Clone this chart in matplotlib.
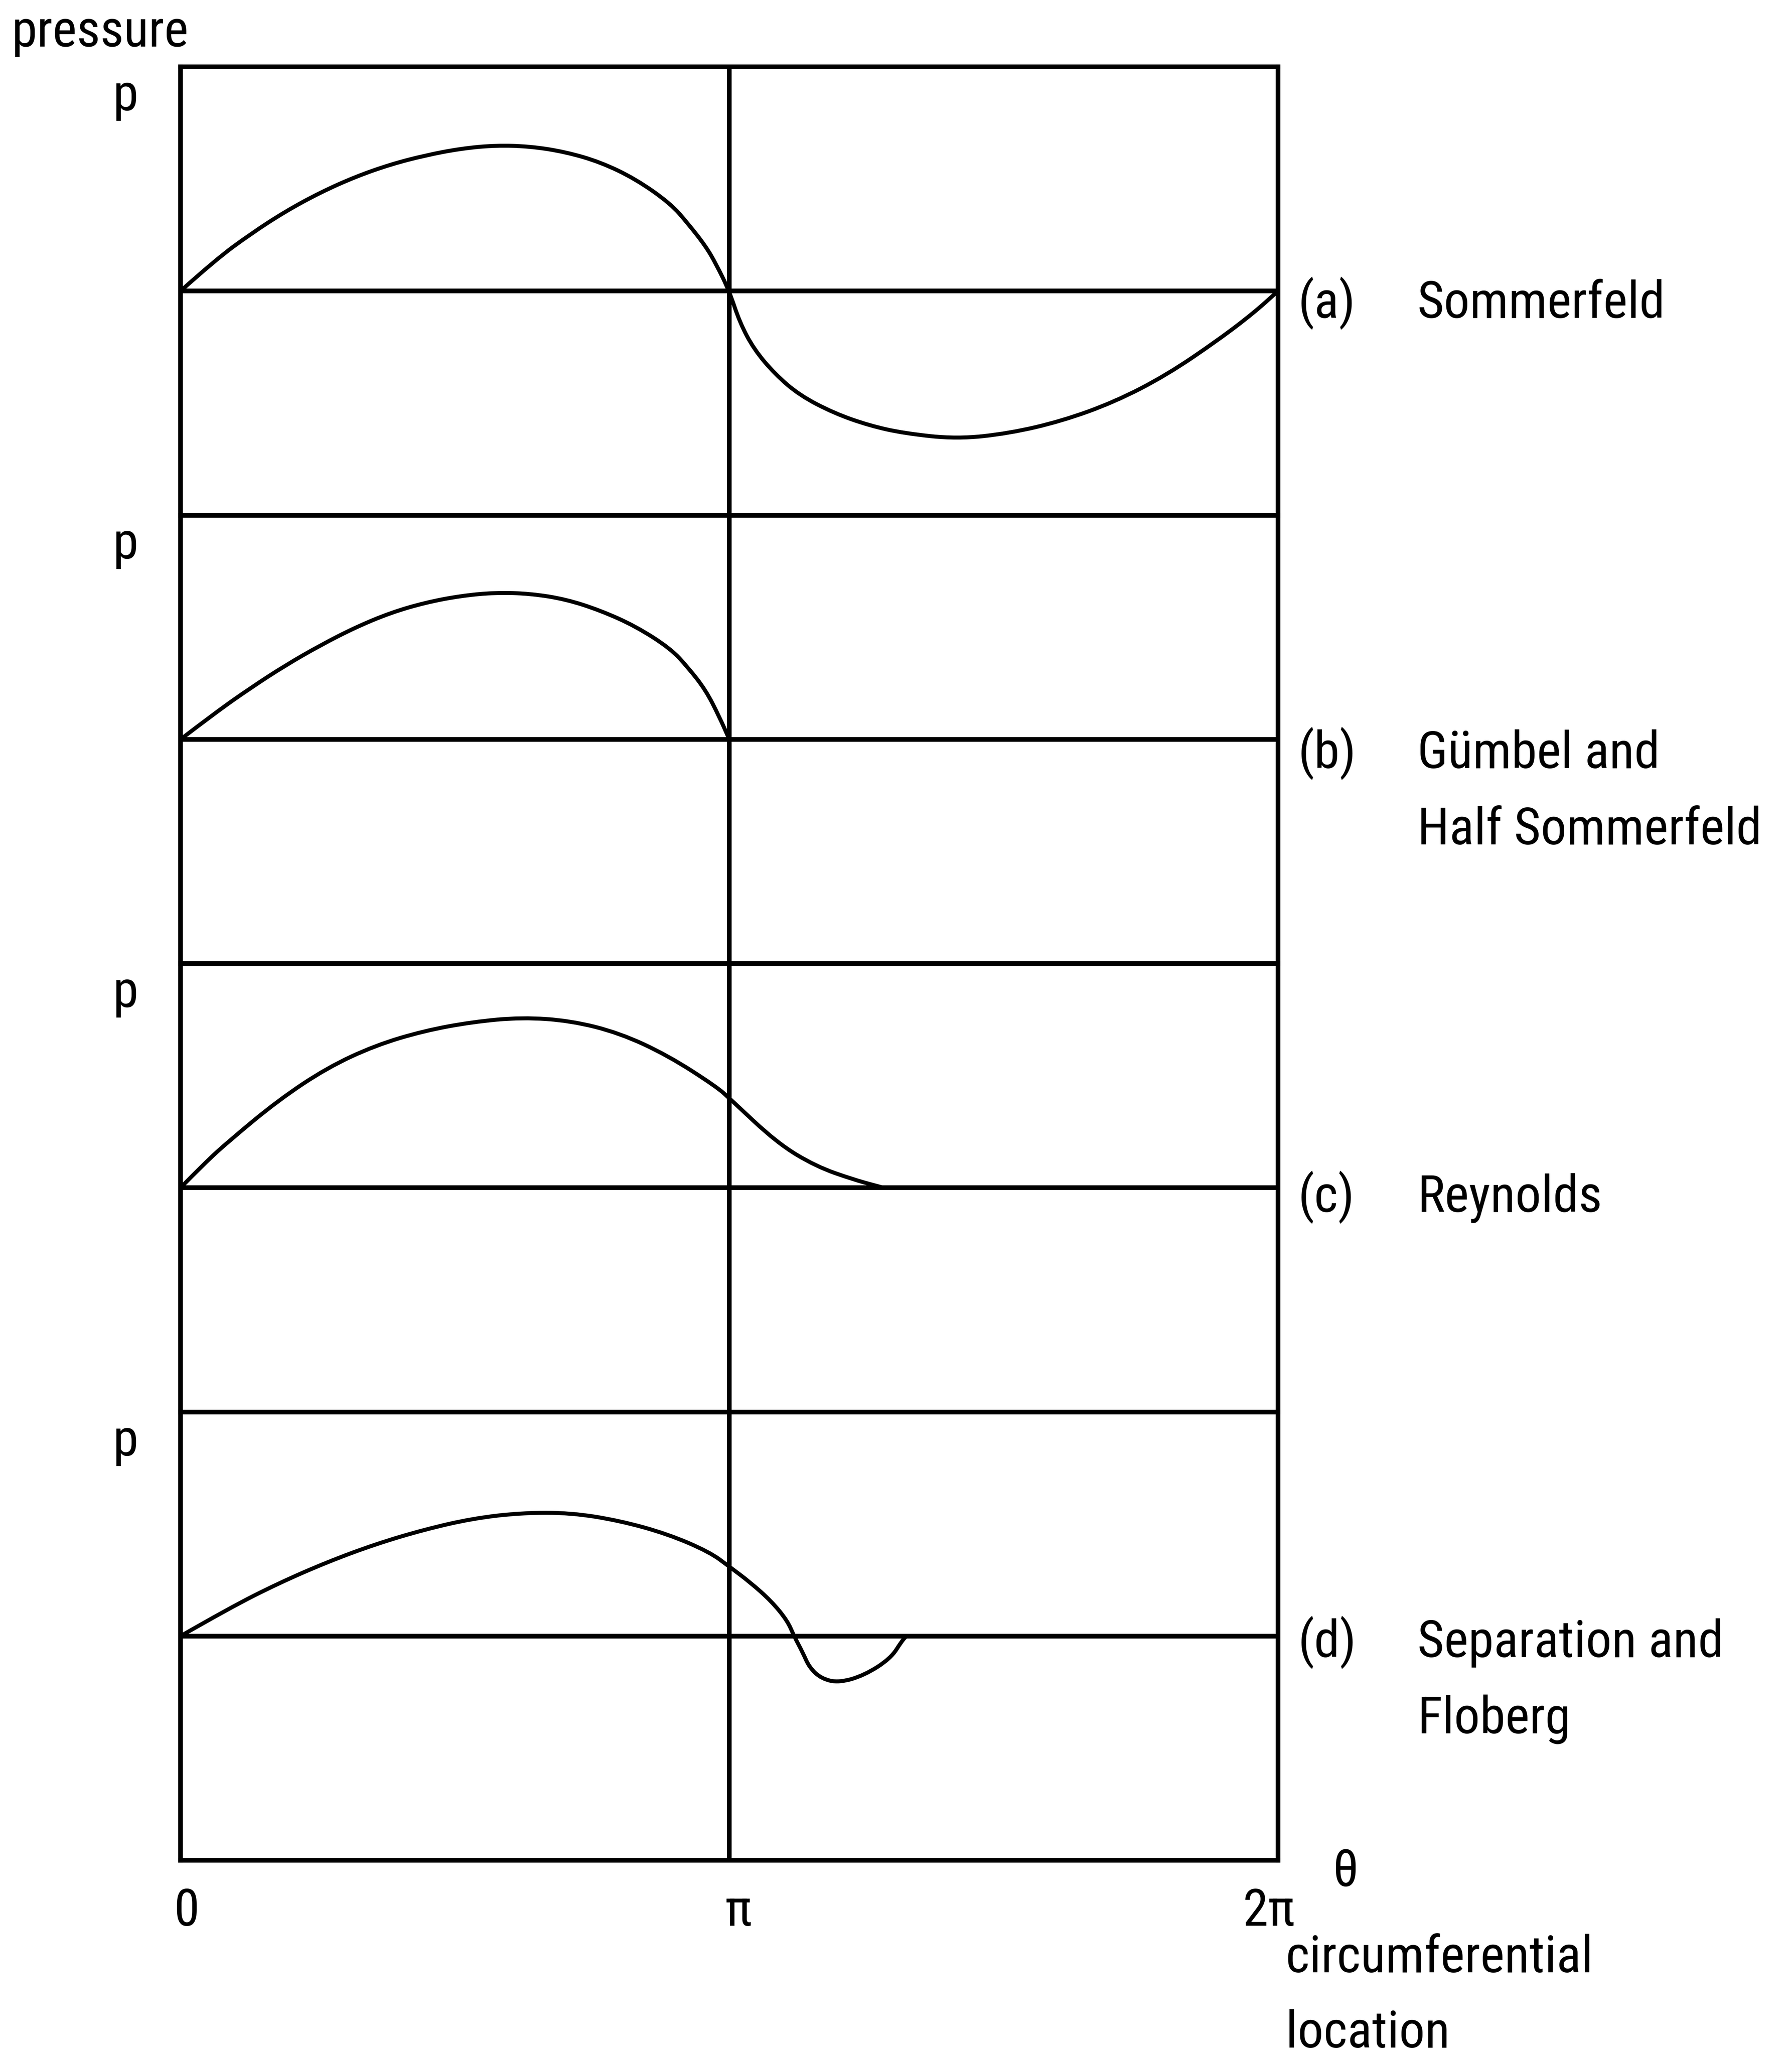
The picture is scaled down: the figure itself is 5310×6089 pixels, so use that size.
import numpy as np
import matplotlib
matplotlib.use('Agg')
import matplotlib.pyplot as plt
from matplotlib import font_manager
from matplotlib.path import Path
from matplotlib.patches import PathPatch

# Circumferential position (multiples of pi) and pressure relative to ambient,
# one profile per cavitation boundary condition
a_theta = [0, 0.064, 0.128, 0.191, 0.255, 0.319, 0.383, 0.446, 0.510, 0.574,
           0.638, 0.702, 0.765, 0.829, 0.893, 0.925, 0.957, 0.976, 1.0,
           1.019, 1.045, 1.083, 1.128, 1.191, 1.255, 1.319, 1.415, 1.510,
           1.606, 1.702, 1.797, 1.893, 1.957, 2.0]
a_p = [0, 0.14, 0.255, 0.355, 0.44, 0.51, 0.565, 0.605, 0.635, 0.65,
       0.645, 0.62, 0.575, 0.50, 0.39, 0.30, 0.20, 0.12, 0,
       -0.14, -0.26, -0.37, -0.465, -0.545, -0.60, -0.635, -0.66, -0.635,
       -0.58, -0.495, -0.375, -0.215, -0.095, 0]

b_theta = [0, 0.064, 0.128, 0.191, 0.255, 0.319, 0.383, 0.446, 0.510, 0.574,
           0.638, 0.702, 0.765, 0.829, 0.893, 0.925, 0.957, 0.982, 1.0]
b_p = [0, 0.12, 0.23, 0.33, 0.42, 0.50, 0.565, 0.61, 0.64, 0.655,
       0.65, 0.625, 0.575, 0.505, 0.405, 0.32, 0.22, 0.10, 0]

c_theta = [0, 0.044, 0.089, 0.178, 0.267, 0.355, 0.444, 0.533, 0.622, 0.711,
           0.800, 0.888, 0.977, 1.002, 1.087, 1.158, 1.228, 1.281]
c_p = [0, 0.11, 0.21, 0.39, 0.535, 0.635, 0.70, 0.74, 0.76, 0.745,
       0.69, 0.59, 0.45, 0.395, 0.20, 0.095, 0.035, 0]

d_theta = [0, 0.089, 0.178, 0.267, 0.355, 0.444, 0.533, 0.622, 0.711, 0.800,
           0.888, 0.964, 1.0, 1.038, 1.077, 1.106, 1.118, 1.134, 1.146,
           1.168, 1.200, 1.246, 1.294, 1.315, 1.323]
d_p = [0, 0.125, 0.235, 0.33, 0.41, 0.475, 0.525, 0.55, 0.55, 0.515,
       0.455, 0.375, 0.31, 0.24, 0.155, 0.068, 0, -0.074, -0.14,
       -0.19, -0.208, -0.175, -0.10, -0.02, 0]

case_tags = ['(a)', '(b)', '(c)', '(d)']
case_names = ['Sommerfeld', 'Gümbel and\nHalf Sommerfeld', 'Reynolds',
              'Separation and\nFloberg']
tick_labels = ['0', 'π', '2π']

profiles = [(a_theta, a_p), (b_theta, b_p), (c_theta, c_p), (d_theta, d_p)]


def pick_font():
    # prefer a narrow sans, the lettering is tall and condensed
    entries = font_manager.fontManager.ttflist
    names = {f.name for f in entries}
    for name in ['Liberation Sans Narrow', 'Noto Sans Condensed',
                 'Roboto Condensed', 'Open Sans Condensed',
                 'DejaVu Sans Condensed']:
        if name in names:
            return name, 'normal'
    for f in entries:
        if (f.name in ('DejaVu Sans', 'Noto Sans', 'Open Sans', 'Roboto')
                and f.style == 'normal'
                and f.weight in (400, 'normal', 'regular', 'book')
                and str(f.stretch) in ('condensed', 'semi-condensed')):
            return f.name, f.stretch
    return 'DejaVu Sans', 'normal'


family, stretch = pick_font()
plt.rcParams['font.family'] = [family, 'DejaVu Sans']
plt.rcParams['font.stretch'] = stretch

W, H = 5310, 6089
fig = plt.figure(figsize=(W / 100, H / 100), dpi=100)
fig.patch.set_facecolor('white')

# size the lettering so that a label word spans its drawn width
renderer = fig.canvas.get_renderer()
probe = fig.text(0, 0, 'Sommerfeld', fontsize=100)
fs = 100 * 735 / probe.get_window_extent(renderer).width
probe.remove()
fs = min(fs, 116)


def put(x, y, s, ha='left'):
    # place text by pixel position of its baseline
    fig.text(x / W, 1 - y / H, s, ha=ha, va='baseline', fontsize=fs)


def smooth(x, y):
    # quadratic bezier through the midpoints of the read-off points
    verts = [(x[0], y[0])]
    codes = [Path.MOVETO]
    for i in range(1, len(x) - 1):
        verts += [(x[i], y[i]), ((x[i] + x[i + 1]) / 2, (y[i] + y[i + 1]) / 2)]
        codes += [Path.CURVE3, Path.CURVE3]
    verts.append((x[-1], y[-1]))
    codes.append(Path.LINETO)
    return Path(verts, codes)


left, right, top0, ph = 535, 3787, 198, 1328.5
lw_frame = 10
axes = []
for i, (th, p) in enumerate(profiles):
    ax = fig.add_axes([left / W, 1 - (top0 + (i + 1) * ph) / H,
                       (right - left) / W, ph / H])
    ax.set_xlim(0, 2 * np.pi)
    ax.set_ylim(-1, 1)
    ax.set_xticks([])
    ax.set_yticks([])
    for sp in ax.spines.values():
        sp.set_linewidth(lw_frame)
        sp.set_color('black')
    ax.axhline(0, color='black', lw=lw_frame)
    ax.axvline(np.pi, color='black', lw=lw_frame)
    x = np.array(th) * np.pi
    ax.add_patch(PathPatch(smooth(x, np.array(p)), facecolor='none',
                           edgecolor='black', lw=8.5, capstyle='round',
                           joinstyle='round'))
    axes.append(ax)

# labels on the right of each panel
tag_y = [942, 2276, 3591, 4910]
for i in range(4):
    put(3846, tag_y[i], case_tags[i])
    for j, ln in enumerate(case_names[i].split('\n')):
        put(4200, tag_y[i] + j * 226, ln)

# pressure axis labels
put(34, 138, 'pressure')
for i in range(4):
    put(372, top0 + i * ph + 129, 'p', ha='center')

# circumferential axis labels
for xc, lab in zip([553, 2188, 3760], tick_labels):
    put(xc, 5706, lab, ha='center')
put(3987, 5589, 'θ', ha='center')
put(3810, 5844, 'circumferential')
put(3810, 6067, 'location')

fig.savefig('out.png', dpi=100, facecolor='white')
